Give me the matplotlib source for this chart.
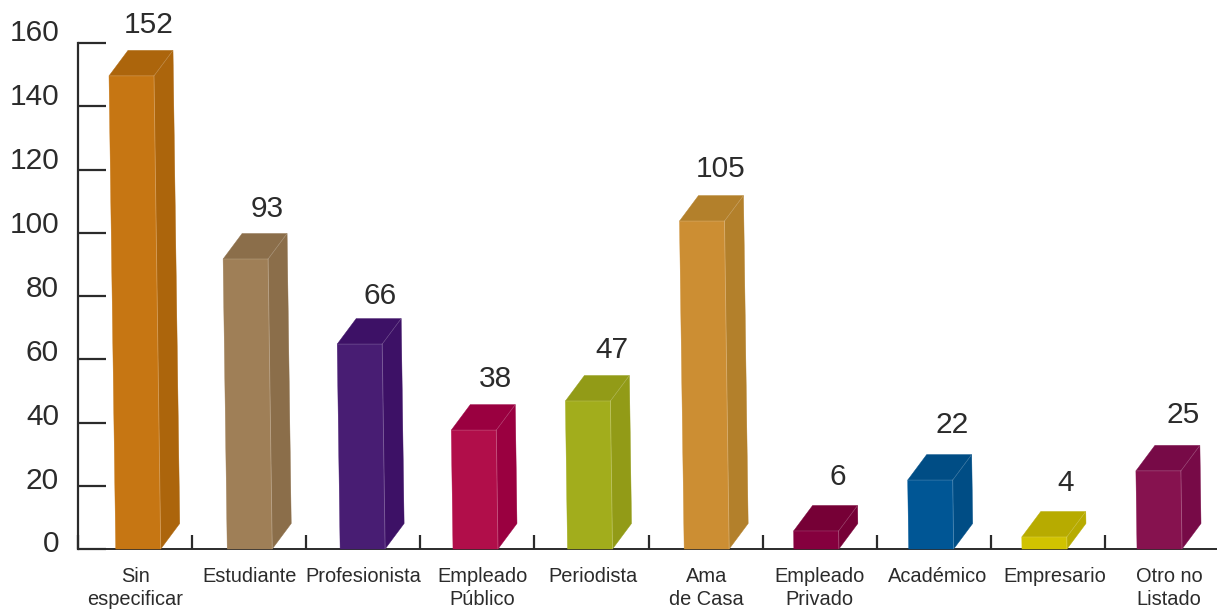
import matplotlib
matplotlib.use("Agg")
import matplotlib.pyplot as plt
from matplotlib.patches import Polygon

plt.rcParams['font.family'] = ['Liberation Sans', 'DejaVu Sans']

categories = ["Sin\nespecificar", "Estudiante", "Profesionista", "Empleado\nPúblico", "Periodista",
              "Ama\nde Casa", "Empleado\nPrivado", "Académico", "Empresario", "Otro no\nListado"]
# printed numbers and the height the bars are actually drawn at (slightly lower in the source)
printed = [152, 93, 66, 38, 47, 105, 6, 22, 4, 25]
heights = [149.6, 91.7, 64.8, 37.6, 46.8, 103.7, 5.7, 21.8, 3.8, 24.7]
front_colors = ["#C67613", "#9F7F57", "#481D73", "#B10E4A", "#A2AD1C",
                "#CC8E33", "#85003E", "#005695", "#D1C300", "#86124F"]
side_colors = ["#AC650C", "#8B6E4A", "#3D1166", "#9A0040", "#929B17",
               "#B3802B", "#760036", "#004D85", "#B7AB00", "#770A47"]
yticks = [0, 20, 40, 60, 80, 100, 120, 140, 160]

# hand placed text in the source, nudges in pixels
value_dx = [-3, 1, 0, 1, 4, -2, 1, 1, 1, 4]
value_dy = [1.5, 2.5, 4.5, 1.5, 1.5, 0.5, -1.5, -2.5, -1.5, -3.5]
cat_dx = [0, 0, 0, 5, 2, 1, 0, 4, 7, 7]

W, H = 1217, 609
ax_left, ax_right, ax_top, ax_bottom = 78, 1217, 43, 549
slot = 114.1  # pixels per category
ink = "#2b2b2b"
pt = 0.72  # points per pixel at dpi 100

fig = plt.figure(figsize=(W / 100, H / 100), dpi=100)
ax = fig.add_axes([ax_left / W, (H - ax_bottom) / H, (ax_right - ax_left) / W, (ax_bottom - ax_top) / H])
ax.set_xlim(0, (ax_right - ax_left) / slot)
ax.set_ylim(0, 160)

# pixel sizes in data units
px = 1 / slot
py = 160 / (ax_bottom - ax_top)
bar_w = 45 * px
dx, dy = 19 * px, 25.5 * py

for i, (h, n) in enumerate(zip(heights, printed)):
    x0 = i + 31 * px
    # the front face leans a little, more for tall bars
    lean = 0.045 * h * px
    front = [(x0, h), (x0 + bar_w, h), (x0 + bar_w + lean, 0), (x0 + lean, 0)]
    side = [(x0 + bar_w, h), (x0 + bar_w + dx, h + dy), (x0 + bar_w + lean + dx, dy), (x0 + bar_w + lean, 0)]
    top = [(x0, h), (x0 + bar_w, h), (x0 + bar_w + dx, h + dy), (x0 + dx, h + dy)]
    ax.add_patch(Polygon(side, closed=True, fc=side_colors[i], ec=side_colors[i], lw=0.3, zorder=3, clip_on=False))
    ax.add_patch(Polygon(top, closed=True, fc=side_colors[i], ec=side_colors[i], lw=0.3, zorder=3, clip_on=False))
    ax.add_patch(Polygon(front, closed=True, fc=front_colors[i], ec=front_colors[i], lw=0.3, zorder=4, clip_on=False))
    # light seams between the faces
    ax.plot([x0 + bar_w, x0 + bar_w + lean], [h, 0], color="white", alpha=0.25, lw=0.6, zorder=5)
    ax.plot([x0, x0 + bar_w, x0 + bar_w + dx], [h, h, h + dy], color="white", alpha=0.2, lw=0.5, zorder=5)
    ax.text(x0 + (43 + value_dx[i]) * px, h + dy + (27 - value_dy[i]) * py, str(n),
            ha="center", va="center", fontsize=21.5, color=ink, clip_on=False)
    ax.annotate(categories[i], xy=(i + 0.5, 0), xytext=(cat_dx[i] * pt, -13.2), textcoords="offset points",
                ha="center", va="top", fontsize=14.4, color=ink, linespacing=1.25, annotation_clip=False)

for s in ["top", "right"]:
    ax.spines[s].set_visible(False)
ax.spines["left"].set_linewidth(1.6)
ax.spines["bottom"].set_linewidth(1.4)
ax.spines["left"].set_color(ink)
ax.spines["bottom"].set_color(ink)
ax.set_xticks(range(10))
ax.set_xticklabels([])
ax.set_yticks(yticks)
ax.set_yticklabels([])
ax.tick_params(axis="y", direction="in", length=20.2, width=1.6, color=ink)
ax.tick_params(axis="x", direction="in", length=10, width=1.6, color=ink)
ax.patch.set_alpha(0)

# y labels run on a slightly wider spacing than the ticks
for k, v in enumerate(yticks):
    ax.annotate(str(v), xy=(0, v), xytext=(-19 * pt, (4.5 + 0.74 * k) * pt), textcoords="offset points",
                ha="right", va="center", fontsize=21.5, color=ink, annotation_clip=False)

fig.savefig("out.png", dpi=100, facecolor="white")
